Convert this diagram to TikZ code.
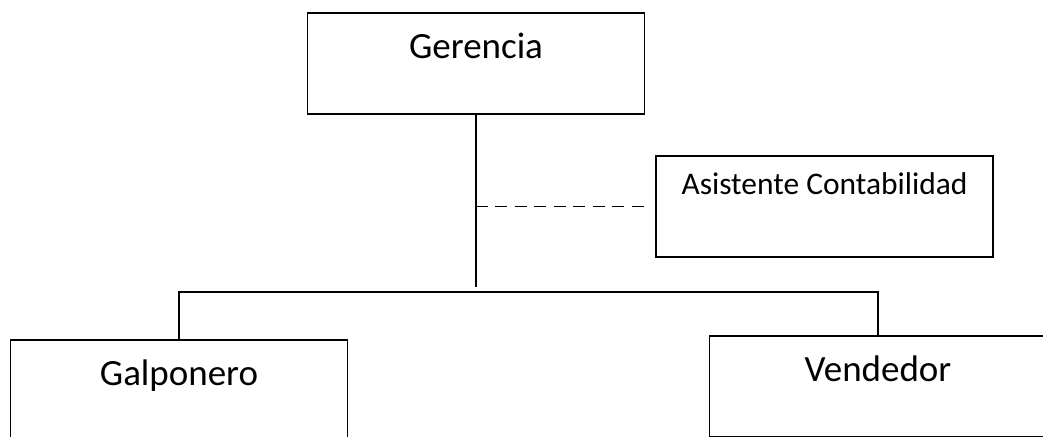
\documentclass[tikz,border=0pt]{standalone}
\usepackage{fontspec}
\setmainfont{Carlito}
\usetikzlibrary{positioning}

\begin{document}
\begin{tikzpicture}[x=0.75pt,y=-0.75pt,
  box/.style={draw,line width=1.4pt,minimum width=252.75pt,inner xsep=0pt,inner ysep=0pt,anchor=north,
    font=\fontsize{27.75}{30}\selectfont,text height=34.5pt,text depth=41.25pt},
  lnk/.style={line width=1.1pt},
  dlnk/.style={line width=1.4pt,dash pattern=on 9pt off 5.6pt}]
\useasboundingbox (0,0) rectangle (1043,436);
\clip (0,0) rectangle (1043,436);
% --- boxes ---
\node[box] (ger) at (476,12) {Gerencia};
\node[box,font=\fontsize{23.6}{26}\selectfont,text height=29.25pt,text depth=46.5pt] (asis) at (824.5,155) {Asistente Contabilidad};
\node[box] (gal) at (179,339) {Galponero};
\node[box] (ven) at (878,335) {Vendedor};
% --- tee points ---
\coordinate (tee) at (476,287);
\coordinate (bar) at (476,292);
% --- links ---
\draw[lnk] (ger.south) -- (ger.south |- tee);
\draw[dlnk,shorten >=3.75pt] (asis.west -| ger.south) -- (asis.west);
\draw[lnk] (gal.north) -- (gal.north |- bar) -| (ven.north);
\end{tikzpicture}
\end{document}
